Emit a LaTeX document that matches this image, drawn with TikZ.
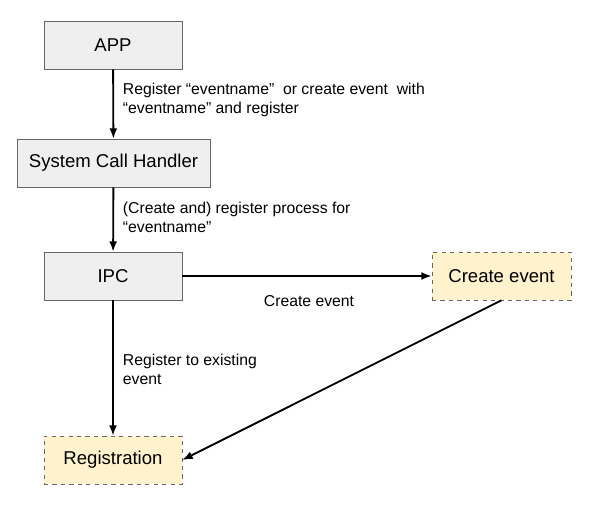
\documentclass[tikz,border=0pt]{standalone}
\usepackage{fontspec}
\setmainfont{Liberation Sans}
\usetikzlibrary{arrows.meta}
\definecolor{boxgray}{HTML}{EFEFEF}
\definecolor{boxline}{HTML}{666666}
\definecolor{boxyellow}{HTML}{FFF2CC}

\begin{document}
\begin{tikzpicture}[every node/.style={align=left},
    stage/.style={draw=boxline, fill=boxgray, minimum width=3.45cm, minimum height=1.2cm, font=\fontsize{13.2}{16}\selectfont},
    result/.style={stage, dashed, fill=boxyellow},
    lbl/.style={anchor=west, font=\fontsize{11.2}{13.6}\selectfont},
    flow/.style={-{Latex[length=0.26cm, width=0.2cm]}, line width=1.3pt}]
      \useasboundingbox (0,0) rectangle (15,-12.65);

      % Boxes on the left
      \node (app) [stage] at (2.825,-1.125) {APP};
      \node (sch) [stage, minimum width=4.825cm] at (2.8375,-4.075) {System Call Handler};
      \node (ipc) [stage] at (2.825,-6.9) {IPC};
      \node (reg) [result] at (2.825,-11.5) {Registration};

      % Box on the right
      \node (create) [result, minimum width=3.475cm] at (12.5375,-6.9) {Create event};

      % Labels
      \node (l1) [lbl] at (2.95,-2.5) {Register “eventname”\ \ or create event\ \ with\\“eventname” and register};
      \node (l2) [lbl] at (2.95,-5.425) {(Create and) register process for\\“eventname”};
      \node (l3) [lbl] at (2.95,-9.225) {Register to existing\\event};
      \node (l4) [lbl, anchor=center] at (7.725,-7.525) {Create event};

      % Arrows
      \draw[flow] (app) -- (sch);
      \draw[flow] (sch) -- (ipc);
      \draw[flow] (ipc) -- (create);
      \draw[flow] (ipc) -- (reg);
      \draw[flow] (create.south) -- (reg.east);

    \end{tikzpicture}
\end{document}
